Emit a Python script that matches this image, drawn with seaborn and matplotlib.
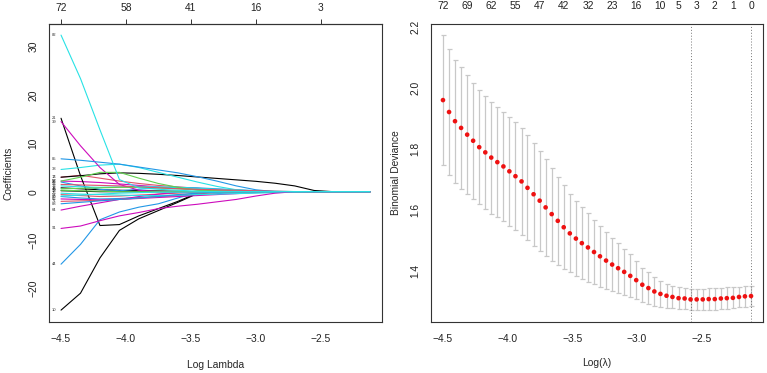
import numpy as np
import pandas as pd
import matplotlib
matplotlib.use("Agg")
import matplotlib.pyplot as plt
import seaborn as sns

# ---------------- left panel: lasso coefficient paths ----------------
knots = [-4.5, -4.35, -4.2, -4.05, -3.9, -3.75, -3.6, -3.45, -3.3, -3.15,
         -3.0, -2.85, -2.7, -2.55, -2.4, -2.12]

v82 = [32.4, 23.4, 12.8, 2.5, 0.8, 0.5, 0.3, 0.1, 0, 0, 0, 0, 0, 0, 0, 0]
v10 = [-24.5, -21.0, -13.7, -8.0, -5.6, -3.9, -2.2, -0.4, 0, 0, 0, 0, 0, 0, 0, 0]
v21 = [15.2, 3.3, -7.0, -6.8, -5.0, -3.5, -2.0, -0.3, 0, 0, 0, 0, 0, 0, 0, 0]
v39 = [14.5, 9.5, 5.0, 1.5, 0.3, 0, 0, 0, 0, 0, 0, 0, 0, 0, 0, 0]
v85 = [6.8, 6.5, 6.1, 5.7, 5.1, 4.5, 3.9, 3.1, 2.2, 1.2, 0.4, 0, 0, 0, 0, 0]
v38 = [4.6, 5.0, 5.5, 5.7, 5.0, 4.0, 3.0, 2.0, 1.1, 0.4, 0, 0, 0, 0, 0, 0]
v16 = [3.0, 3.3, 3.7, 3.9, 3.8, 3.6, 3.35, 3.05, 2.75, 2.45, 2.15, 1.75, 1.2, 0.25, 0, 0]
v57 = [2.2, 3.0, 4.0, 4.0, 2.8, 1.7, 0.9, 0.3, 0, 0, 0, 0, 0, 0, 0, 0]
v44 = [-15.0, -10.9, -5.8, -4.2, -3.2, -2.5, -1.3, -0.2, 0, 0, 0, 0, 0, 0, 0, 0]
v91 = [-7.6, -7.1, -6.0, -5.0, -4.3, -3.5, -3.0, -2.6, -2.1, -1.6, -0.9, -0.3, 0, 0, 0, 0]
v64 = [-3.8, -3.0, -2.3, -1.6, -1.0, -0.5, -0.1, 0, 0, 0, 0, 0, 0, 0, 0, 0]
v7 = [3.0, 3.4, 2.8, 2.2, 1.7, 1.3, 1.0, 0.7, 0.4, 0.15, 0, 0, 0, 0, 0, 0]
v18 = [2.2, 2.1, 1.9, 1.6, 1.3, 1.0, 0.7, 0.4, 0.15, 0, 0, 0, 0, 0, 0, 0]
v25 = [2.0, 1.2, 0.5, 0.2, 0.5, 0.8, 0.9, 0.8, 0.6, 0.4, 0.2, 0.05, 0, 0, 0, 0]
v33 = [1.2, 1.0, 0.9, 1.0, 1.1, 1.0, 0.9, 0.7, 0.5, 0.35, 0.2, 0.1, 0.03, 0, 0, 0]
v3 = [0.8, 0.6, 0.4, 0.3, 0.2, 0.15, 0.1, 0, 0, 0, 0, 0, 0, 0, 0, 0]
v48 = [0.6, 0.7, 0.8, 0.9, 0.9, 0.8, 0.6, 0.4, 0.2, 0.05, 0, 0, 0, 0, 0, 0]
v52 = [-0.6, -0.8, -1.0, -0.9, -0.7, -0.5, -0.3, -0.1, 0, 0, 0, 0, 0, 0, 0, 0]
v60 = [-1.0, -1.3, -1.5, -1.4, -1.2, -1.0, -0.8, -0.6, -0.4, -0.2, -0.05, 0, 0, 0, 0, 0]
v66 = [-1.5, -1.6, -1.7, -1.6, -1.4, -1.2, -1.0, -0.8, -0.6, -0.4, -0.2, -0.05, 0, 0, 0, 0]
v71 = [-2.0, -1.9, -1.8, -1.6, -1.3, -1.0, -0.7, -0.4, -0.2, 0, 0, 0, 0, 0, 0, 0]
v75 = [-0.3, -0.5, -0.6, -0.7, -0.8, -0.8, -0.7, -0.6, -0.5, -0.4, -0.3, -0.2, -0.1, 0, 0, 0]
v79 = [0.3, 0.2, 0.1, 0, 0, 0, 0, 0, 0, 0, 0, 0, 0, 0, 0, 0]
v88 = [-2.5, -2.2, -1.9, -1.6, -1.3, -1.0, -0.6, -0.3, -0.1, 0, 0, 0, 0, 0, 0, 0]
v94 = [1.5, 1.4, 1.3, 1.2, 1.0, 0.8, 0.6, 0.5, 0.4, 0.3, 0.2, 0.1, 0.02, 0, 0, 0]
v13 = [0.2, 0.1, 0, 0, 0, 0, 0, 0, 0, 0, 0, 0, 0, 0, 0, 0]
v2 = [-0.9, -0.7, -0.5, -0.3, -0.2, -0.1, -0.1, -0.05, 0, 0, 0, 0, 0, 0, 0, 0]

# R palette colours used by plot.glmnet
BLACK, PINK, GREEN, BLUE, CYAN, MAGENTA = "black", "#DF536B", "#61D04F", "#2297E6", "#28E2E5", "#CD0BBC"

paths = [
    ("10", BLACK, v10), ("3", BLACK, v3), ("7", PINK, v7), ("13", BLACK, v13),
    ("16", BLACK, v16), ("18", MAGENTA, v18), ("21", BLACK, v21), ("25", BLUE, v25),
    ("33", CYAN, v33), ("38", CYAN, v38), ("39", MAGENTA, v39), ("44", BLUE, v44),
    ("48", GREEN, v48), ("52", PINK, v52), ("57", GREEN, v57), ("60", BLUE, v60),
    ("64", MAGENTA, v64), ("66", MAGENTA, v66), ("71", PINK, v71), ("75", CYAN, v75),
    ("79", GREEN, v79), ("85", BLUE, v85), ("88", BLUE, v88), ("91", MAGENTA, v91),
    ("94", PINK, v94), ("82", CYAN, v82), ("2", CYAN, v2),
]

left_top_ticks = [-4.5, -4.0, -3.5, -3.0, -2.5]
left_top_labels = ["72", "58", "41", "16", "3"]

# ---------------- right panel: cv.glmnet deviance ----------------
log_lambda = [-4.5, -4.453, -4.407, -4.36, -4.313, -4.267, -4.22, -4.173, -4.127, -4.08,
              -4.033, -3.987, -3.94, -3.893, -3.847, -3.8, -3.753, -3.707, -3.66, -3.613,
              -3.567, -3.52, -3.473, -3.427, -3.38, -3.333, -3.287, -3.24, -3.193, -3.147,
              -3.1, -3.053, -3.007, -2.96, -2.913, -2.867, -2.82, -2.773, -2.727, -2.68,
              -2.633, -2.587, -2.54, -2.493, -2.447, -2.4, -2.353, -2.307, -2.26, -2.213,
              -2.167, -2.12]
deviance = [1.960, 1.921, 1.891, 1.869, 1.847, 1.827, 1.806, 1.789, 1.772, 1.757,
            1.743, 1.727, 1.711, 1.694, 1.673, 1.652, 1.631, 1.609, 1.587, 1.565,
            1.544, 1.524, 1.507, 1.492, 1.478, 1.463, 1.449, 1.435, 1.422, 1.410,
            1.398, 1.385, 1.371, 1.356, 1.345, 1.334, 1.326, 1.320, 1.316, 1.312,
            1.311, 1.308, 1.308, 1.308, 1.309, 1.309, 1.311, 1.312, 1.313, 1.316,
            1.318, 1.319]
dev_se = [0.212, 0.206, 0.201, 0.199, 0.194, 0.189, 0.186, 0.184, 0.183, 0.181,
          0.179, 0.178, 0.176, 0.176, 0.172, 0.168, 0.164, 0.159, 0.152, 0.145,
          0.138, 0.128, 0.124, 0.118, 0.112, 0.106, 0.100, 0.094, 0.088, 0.081,
          0.074, 0.070, 0.063, 0.056, 0.052, 0.047, 0.043, 0.040, 0.037, 0.036,
          0.035, 0.035, 0.035, 0.035, 0.035, 0.035, 0.035, 0.035, 0.034, 0.034,
          0.034, 0.033]
nzero_idx = [0, 4, 8, 12, 16, 20, 24, 28, 32, 36, 39, 42, 45, 48, 51]
nzero_labels = ["72", "69", "62", "55", "47", "42", "32", "23", "16", "10", "5", "3", "2", "1", "0"]
lambda_min = -2.587
lambda_1se = -2.12


def r_axes(ax):
    for sp in ax.spines.values():
        sp.set_visible(True)
        sp.set_color("#333333")
        sp.set_linewidth(0.8)
    ax.tick_params(axis="both", direction="out", length=3.6, width=0.7,
                   color="#333333", labelsize=7.4, labelcolor="#222222")
    ax.tick_params(axis="x", pad=5.0)
    ax.tick_params(axis="y", pad=4.0)
    plt.setp(ax.get_yticklabels(), rotation=90, va="center")
    ax.xaxis.label.set_va("center")
    ax.yaxis.label.set_va("center")


def main():
    sns.set_style("white")
    plt.rcParams["font.family"] = ["Liberation Sans", "DejaVu Sans"]
    plt.rcParams["axes.unicode_minus"] = True

    fig = plt.figure(figsize=(7.67, 3.73), dpi=100)
    ax1 = fig.add_axes([0.0635, 0.1375, 0.4349, 0.7982])
    ax2 = fig.add_axes([0.5615, 0.1375, 0.4337, 0.7982])

    # left
    rows = []
    for name, col, vals in paths:
        for x, y in zip(knots, vals):
            rows.append({"log_lambda": x, "coef": y, "var": name})
    coef_df = pd.DataFrame(rows)
    order = [p[0] for p in paths]
    pal = {p[0]: p[1] for p in paths}
    sns.lineplot(data=coef_df, x="log_lambda", y="coef", hue="var", hue_order=order,
                 palette=pal, estimator=None, sort=False, legend=False,
                 linewidth=0.8, ax=ax1)
    for name, col, vals in paths:
        ax1.text(knots[0] - 0.055, vals[0], name, fontsize=3, ha="center",
                 va="center", color="#333333")
    ax1.set_xlim(-4.595, -2.025)
    ax1.set_ylim(-26.9, 34.7)
    ax1.set_xticks([-4.5, -4.0, -3.5, -3.0, -2.5])
    ax1.set_yticks([-20, -10, 0, 10, 20, 30])
    ax1.set_xlabel("Log Lambda", fontsize=7.4)
    ax1.set_ylabel("Coefficients", fontsize=7.4)
    r_axes(ax1)
    ax1.xaxis.set_label_coords(0.5, -0.145)
    ax1.yaxis.set_label_coords(-0.122, 0.5)
    top1 = ax1.secondary_xaxis("top")
    top1.set_xticks(left_top_ticks, labels=left_top_labels)
    top1.tick_params(direction="out", length=3.6, width=0.7, color="#333333",
                     labelsize=7.4, labelcolor="#222222", pad=4.5)

    # right
    ax2.errorbar(log_lambda, deviance, yerr=dev_se, fmt="none", ecolor="#c8c8c8",
                 elinewidth=0.9, capsize=1.8, capthick=0.9, zorder=1)
    sns.scatterplot(x=log_lambda, y=deviance, color="#ee1111", s=11,
                    edgecolor="none", zorder=3, ax=ax2)
    for v in (lambda_min, lambda_1se):
        ax2.axvline(v, color="#777777", linewidth=0.7, linestyle=(0, (1, 2)), zorder=2)
    ax2.set_xlim(-4.595, -2.025)
    ax2.set_ylim(1.235, 2.209)
    ax2.set_xticks([-4.5, -4.0, -3.5, -3.0, -2.5])
    ax2.set_yticks([1.4, 1.6, 1.8, 2.0, 2.2])
    ax2.set_yticklabels(["1.4", "1.6", "1.8", "2.0", "2.2"])
    ax2.set_xlabel("Log(\u03bb)", fontsize=7.4)
    ax2.set_ylabel("Binomial Deviance", fontsize=7.4)
    r_axes(ax2)
    ax2.xaxis.set_label_coords(0.5, -0.14)
    ax2.yaxis.set_label_coords(-0.104, 0.5)
    top2 = ax2.secondary_xaxis("top")
    top2.set_xticks([log_lambda[i] for i in nzero_idx], labels=nzero_labels)
    top2.tick_params(length=0, labelsize=7.4, labelcolor="#222222", pad=9.5)
    top2.spines["top"].set_visible(False)

    fig.savefig("out.png", dpi=100)
    plt.close(fig)


if __name__ == "__main__":
    main()
